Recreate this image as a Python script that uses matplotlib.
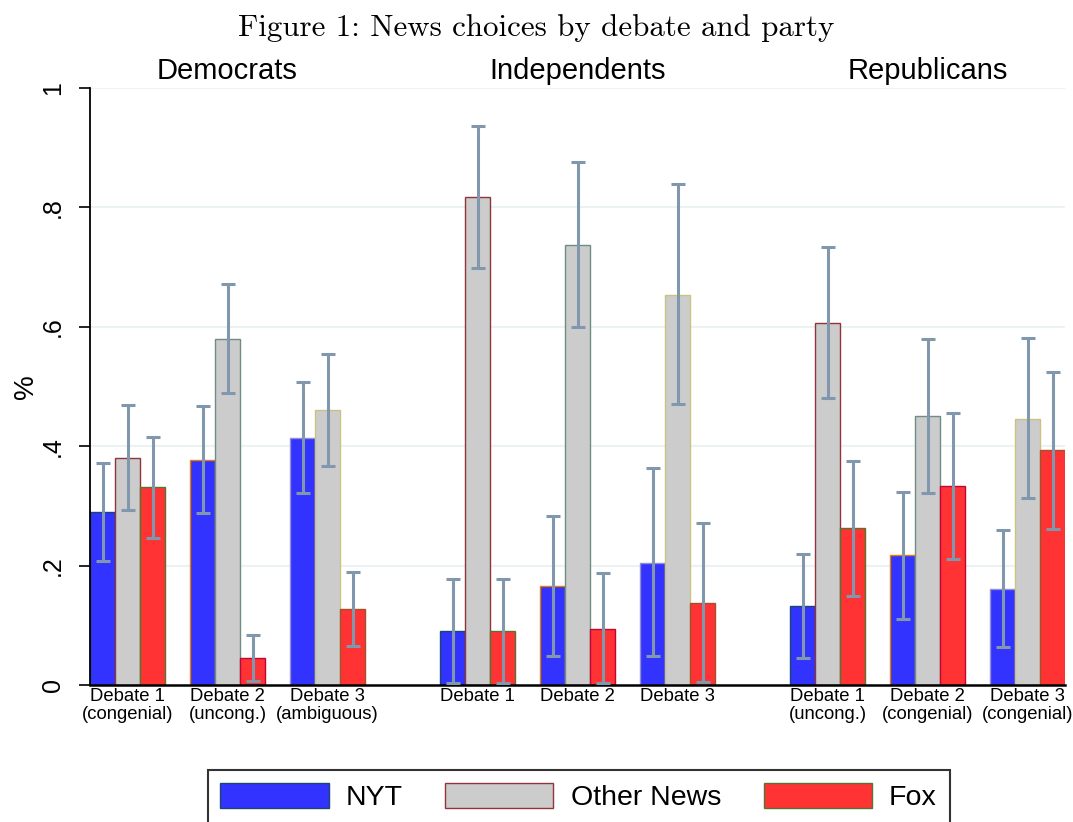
import matplotlib
matplotlib.use("Agg")
import matplotlib.pyplot as plt
import numpy as np
from matplotlib.patches import Patch

# ---- data ----
parties = ["Democrats", "Independents", "Republicans"]
debate_labels = [
    "Debate 1\n(congenial)", "Debate 2\n(uncong.)", "Debate 3\n(ambiguous)",
    "Debate 1", "Debate 2", "Debate 3",
    "Debate 1\n(uncong.)", "Debate 2\n(congenial)", "Debate 3\n(congenial)",
]
series = ["NYT", "Other News", "Fox"]

nyt = [0.290, 0.377, 0.414, 0.090, 0.165, 0.205, 0.132, 0.217, 0.161]
nyt_lo = [0.208, 0.288, 0.322, 0.004, 0.048, 0.049, 0.045, 0.110, 0.063]
nyt_hi = [0.372, 0.468, 0.508, 0.178, 0.283, 0.363, 0.219, 0.324, 0.260]

other = [0.381, 0.580, 0.460, 0.817, 0.737, 0.654, 0.606, 0.450, 0.446]
other_lo = [0.293, 0.489, 0.366, 0.699, 0.599, 0.471, 0.481, 0.321, 0.313]
other_hi = [0.469, 0.672, 0.554, 0.936, 0.876, 0.839, 0.733, 0.580, 0.581]

fox = [0.331, 0.045, 0.127, 0.090, 0.094, 0.137, 0.263, 0.334, 0.393]
fox_lo = [0.246, 0.007, 0.065, 0.004, 0.004, 0.005, 0.149, 0.211, 0.261]
fox_hi = [0.416, 0.083, 0.189, 0.178, 0.187, 0.271, 0.376, 0.456, 0.525]

yticks = [0, 0.2, 0.4, 0.6, 0.8, 1.0]
ytick_labels = ["0", ".2", ".4", ".6", ".8", "1"]

# ---- style ----
plt.rcParams['font.family'] = ['Liberation Sans', 'DejaVu Sans']

fill_colors = ["#3333ff", "#cccccc", "#ff3333"]
# Stata s2color outline cycle (one per bar within a party)
edge_cycle = ["#1a476f", "#90353b", "#55752f", "#e37e00", "#6e8e84",
              "#c10534", "#938dd2", "#cac27e", "#a0522d"]
err_color = "#8197ad"

# positions of debate clusters (party gap)
pos = np.array([0, 1, 2, 3.5, 4.5, 5.5, 7, 8, 9], dtype=float)
party_centers = [pos[0:3].mean(), pos[3:6].mean(), pos[6:9].mean()]
bw = 0.25

fig = plt.figure(figsize=(10.73, 8.22), dpi=100)
ax = fig.add_axes([90/1073, 1-685/822, (1065-90)/1073, (685-88)/822])

vals = [nyt, other, fox]
los = [nyt_lo, other_lo, fox_lo]
his = [nyt_hi, other_hi, fox_hi]
offsets = [-bw, 0, bw]

for s in range(3):
    x = pos + offsets[s]
    edges = [edge_cycle[(i % 3) * 3 + s] for i in range(9)]
    ax.bar(x, vals[s], width=bw, color=fill_colors[s], edgecolor=edges,
           linewidth=1.0, zorder=2)
    lo = np.array(los[s]); hi = np.array(his[s])
    mid = (lo + hi) / 2
    ax.errorbar(x, mid, yerr=[mid - lo, hi - mid], fmt='none', ecolor=err_color,
                elinewidth=2.2, capsize=5, capthick=2.2, zorder=3)

ax.set_xlim(pos[0] - 1.5*bw, pos[-1] + 1.5*bw)
ax.set_ylim(0, 1)
ax.set_yticks(yticks)
ax.set_yticklabels(ytick_labels, fontsize=18, rotation=90, va='center')
ax.set_xticks(pos)
ax.set_xticklabels(debate_labels, fontsize=13.3, linespacing=1.08)
ax.tick_params(axis='x', length=0, pad=2)
ax.tick_params(axis='y', length=8, width=1.2, pad=10, direction='out')
ax.set_ylabel("%", fontsize=20)
ax.yaxis.set_label_coords(-0.052, 0.5)

for y in yticks[1:]:
    ax.axhline(y, color="#eaf2f3", linewidth=1.5, zorder=0)

ax.spines['top'].set_visible(False)
ax.spines['right'].set_visible(False)
ax.spines['left'].set_linewidth(1.3)
ax.spines['bottom'].set_linewidth(1.8)

for name, c in zip(parties, party_centers):
    ax.text(c, 1.005, name, transform=ax.get_xaxis_transform(), ha='center',
            va='bottom', fontsize=21)

fig.text(0.5, 1-28/822, "Figure 1: News choices by debate and party",
         ha='center', va='center', fontsize=22.3, family=['cmr10', 'DejaVu Serif'])

handles = [Patch(facecolor=fill_colors[i], edgecolor=edge_cycle[i], linewidth=1.0)
           for i in range(3)]
leg = fig.legend(handles, series, loc='upper center', ncol=3,
                 bbox_to_anchor=(578.5/1073, 1-770/822), fontsize=20.5,
                 frameon=True, fancybox=False, handlelength=3.8, handleheight=1.0,
                 handletextpad=0.6, columnspacing=1.5, borderpad=0.45,
                 borderaxespad=0)
leg.get_frame().set_edgecolor('black')
leg.get_frame().set_linewidth(1.5)

fig.savefig("out.png", dpi=100)
